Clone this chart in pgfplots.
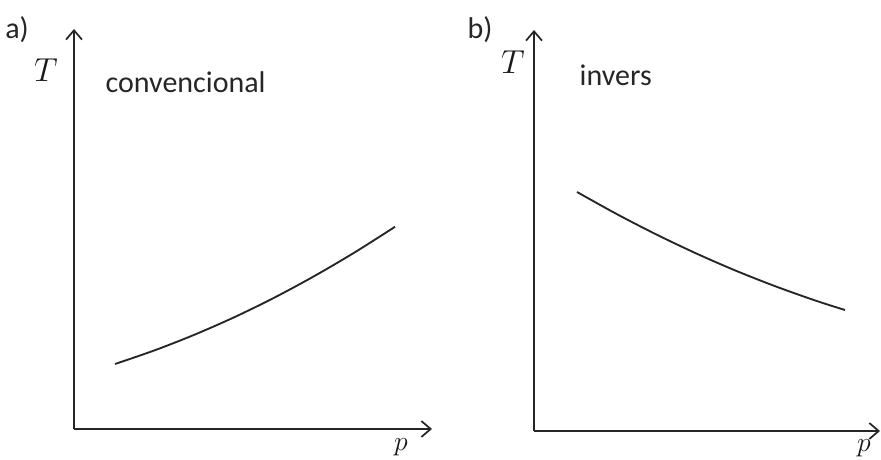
\documentclass[border=0pt]{standalone}
\usepackage{pgfplots}
\pgfplotsset{compat=1.18}
\usepackage{fontspec}
\setmainfont{Carlito}
\usetikzlibrary{arrows.meta}

% Curves of the two panels, in axis units (1 unit = 0.75pt)
\pgfplotstableread{
x     y
41    65.0
81    78.8
121   94.5
161   112.1
201   131.7
241   153.3
281   176.8
321   202.2
}\conv
\pgfplotstableread{
x     y
43    239.0
83    216.8
123   196.2
163   177.2
203   159.8
243   144.1
283   129.9
311   121.0
}\inv

\tikzset{
  lbl/.style={font=\fontsize{22.5}{27}\selectfont, text=black!85},
  var/.style={font=\fontsize{25}{30}\selectfont, text=black!90},
  pvar/.style={font=\fontsize{22}{26}\selectfont, text=black!90, inner sep=0pt},
}

\pgfplotsset{
  panel/.style={
    anchor=origin,
    x=0.75pt, y=0.75pt,
    xmin=0, ymin=0,
    axis lines=left,
    ticks=none,
    clip=false,
    axis line style={line width=1.4pt, color=black!85,
      -{Straight Barb[length=7pt,width=12pt,line width=1.3pt]}},
  },
  curve/.style={line width=1.4pt, color=black!85, smooth, tension=0.5, no marks},
}

\begin{document}
\begin{tikzpicture}
\path[use as bounding box] (0,0) rectangle (660.75pt,345pt);

% a) conventional
\begin{axis}[panel, at={(55.5pt,23.25pt)}, xmax=358, ymax=400]
  \addplot[curve] table[x=x,y=y] {\conv};
  \node[lbl] at (axis cs:-57,399) {a)};
  \node[var] at (axis cs:-28,359) {$T$};
  \node[lbl, anchor=west] at (axis cs:27,347) {convencional};
  \node[pvar, anchor=north] at (axis cs:327,-9) {$p$};
\end{axis}

% b) inverse
\begin{axis}[panel, at={(400.5pt,21.75pt)}, xmax=346, ymax=401]
  \addplot[curve] table[x=x,y=y] {\inv};
  \node[lbl] at (axis cs:-54,401) {b)};
  \node[var] at (axis cs:-21,369) {$T$};
  \node[lbl, anchor=west] at (axis cs:41,356) {invers};
  \node[pvar, anchor=north] at (axis cs:330,-8) {$p$};
\end{axis}
\end{tikzpicture}
\end{document}
